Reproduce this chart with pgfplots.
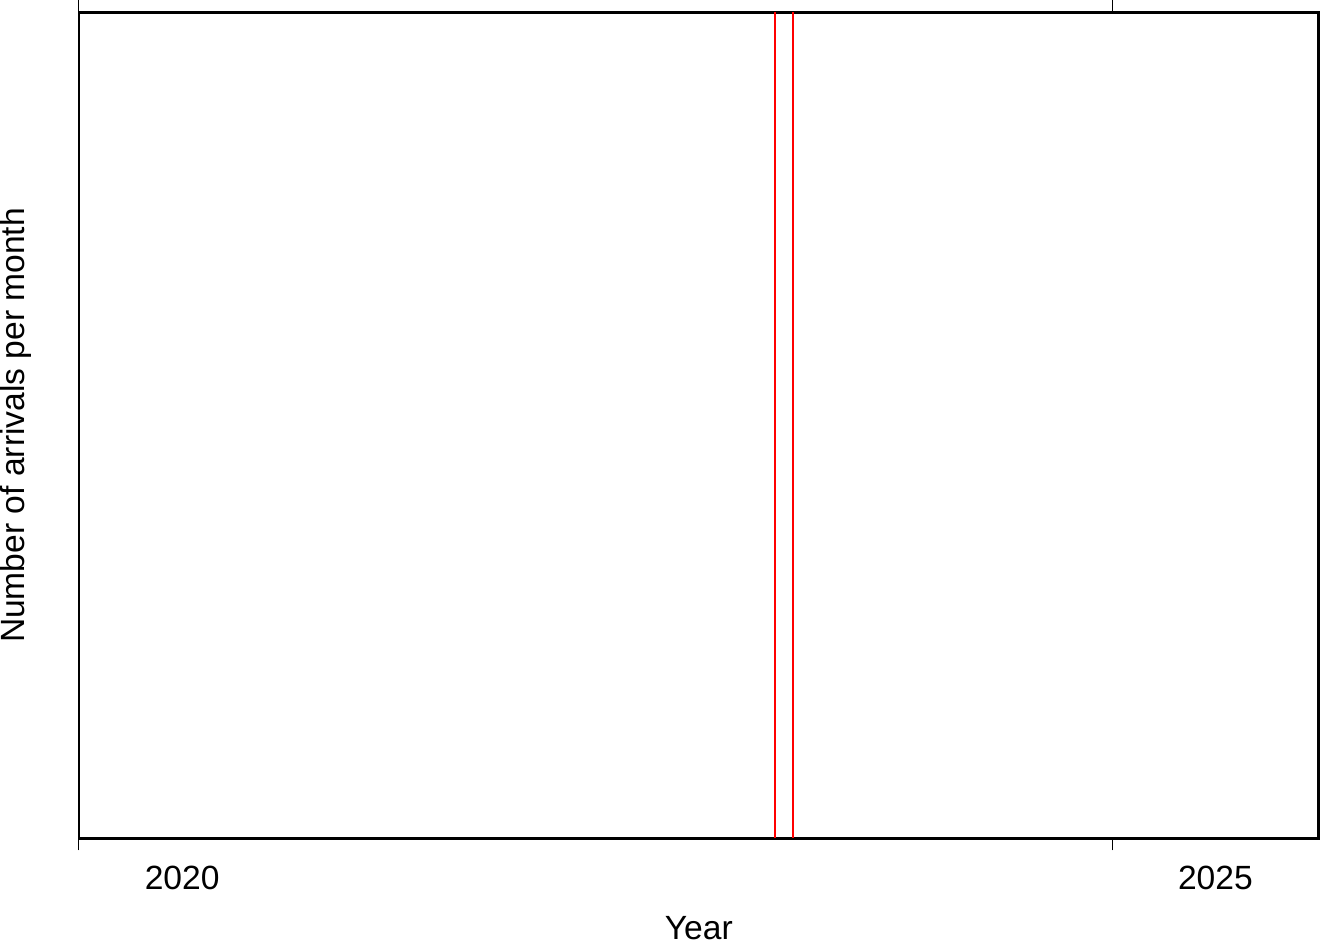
\documentclass[border=0pt]{standalone}
\usepackage{pgfplots}
\pgfplotsset{compat=1.18}
\usepackage{fontspec}
\setmainfont{Liberation Sans}
\begin{document}
\begin{tikzpicture}
\begin{axis}[
  scale only axis,
  width=620bp, height=413bp,
  xmin=2020, xmax=2026, ymin=0, ymax=1,
  axis line style={line width=1.3bp},
  xtick={2020,2025}, xticklabels={},
  ytick=\empty,
  tick align=outside,
  major tick length=6bp,
  tick style={black, line width=0.5bp},
  extra x ticks={2020.5,2025.5},
  extra x tick labels={2020,2025},
  extra x tick style={major tick length=0pt},
  xticklabel style={anchor=base, yshift=-25.5bp, inner sep=0pt},
  font=\fontsize{16.8bp}{20bp}\selectfont,
  ticklabel style={font=\fontsize{16.8bp}{20bp}\selectfont},
  xlabel={Year},
  ylabel={Number of arrivals per month},
  xlabel style={at={(axis description cs:0.5,-0.1284)}, anchor=south, inner sep=2bp, font=\fontsize{16.8bp}{20bp}\selectfont},
  ylabel style={at={(axis description cs:-0.038,0.5)}, anchor=south, rotate=0, inner sep=0pt, font=\fontsize{16.8bp}{20bp}\selectfont},
  clip=false,
]
\addplot[red, line width=0.75bp] coordinates {(2023.369,0) (2023.369,1)};
\addplot[red, line width=0.75bp] coordinates {(2023.456,0) (2023.456,1)};
\end{axis}
\end{tikzpicture}
\end{document}
